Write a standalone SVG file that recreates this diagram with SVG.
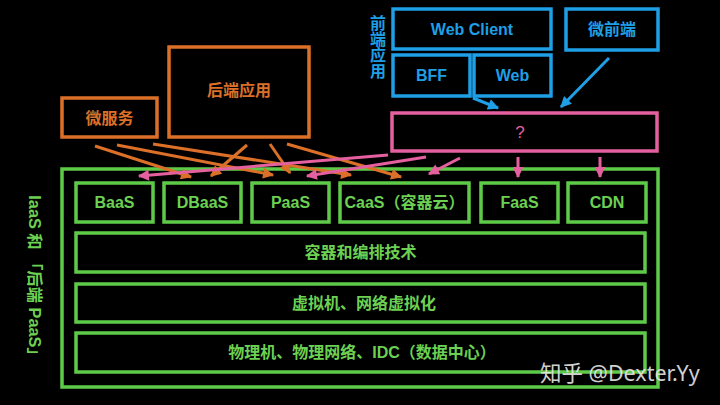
<svg xmlns="http://www.w3.org/2000/svg" width="720" height="405" viewBox="0 0 720 405">
<defs>
<style>
.bg{fill:#000}
.box{fill:none;stroke-width:3.5}
.o{stroke:#dc7028}
.b{stroke:#1e9fe6}
.p{stroke:#e5609f}
.g{stroke:#5ecb48}
.t{font-family:"Liberation Sans","Noto Sans CJK SC",sans-serif;font-size:16px;font-weight:bold;text-anchor:middle}
.to{fill:#dc7028}
.tb{fill:#1e9fe6}
.tp{fill:#e5609f;font-weight:normal;font-size:17px}
.tg{fill:#6cd052}
.ln{fill:none;stroke-width:3}
</style>
<marker id="ao" viewBox="0 0 10 10" refX="9" refY="5" markerWidth="12" markerHeight="11" markerUnits="userSpaceOnUse" orient="auto"><path d="M0,0L10,5L0,10z" fill="#dc7028"/></marker>
<marker id="ab" viewBox="0 0 10 10" refX="9" refY="5" markerWidth="12" markerHeight="11" markerUnits="userSpaceOnUse" orient="auto"><path d="M0,0L10,5L0,10z" fill="#1e9fe6"/></marker>
<marker id="ap" viewBox="0 0 10 10" refX="9" refY="5" markerWidth="12" markerHeight="11" markerUnits="userSpaceOnUse" orient="auto"><path d="M0,0L10,5L0,10z" fill="#e5609f"/></marker>
</defs>
<rect class="bg" x="0" y="0" width="720" height="405"/>

<g id="micro-services"><rect class="box o" x="62" y="98" width="95" height="39"/><text class="t to" x="109.5" y="124">微服务</text></g>
<g id="backend-app"><rect class="box o" x="169" y="47" width="140" height="90"/><text class="t to" x="239" y="96">后端应用</text></g>

<g id="frontend-label"><text class="t tb" x="378"><tspan x="378" y="29">前</tspan><tspan x="378" y="45">端</tspan><tspan x="378" y="61">应</tspan><tspan x="378" y="77">用</tspan></text></g>
<g id="web-client"><rect class="box b" x="393" y="9" width="158" height="40"/><text class="t tb" x="472" y="35">Web Client</text></g>
<g id="micro-frontend"><rect class="box b" x="566" y="9" width="92" height="41"/><text class="t tb" x="612" y="35">微前端</text></g>
<g id="bff"><rect class="box b" x="393" y="55" width="77" height="41"/><text class="t tb" x="431.5" y="81">BFF</text></g>
<g id="web"><rect class="box b" x="474" y="55" width="77" height="41"/><text class="t tb" x="512.5" y="81">Web</text></g>

<g id="unknown"><rect class="box p" x="392" y="113" width="265" height="38"/><text class="t tp" x="520" y="138">?</text></g>

<g id="iaas-paas"><rect class="box g" x="62" y="169" width="596" height="218"/>
<text class="t tg" transform="translate(35,279.5) rotate(90)" y="6" style="font-size:16.3px">IaaS 和 「后端 PaaS」</text></g>
<g id="baas"><rect class="box g" x="76" y="183" width="77" height="39"/><text class="t tg" x="114.5" y="208">BaaS</text></g>
<g id="dbaas"><rect class="box g" x="164" y="183" width="77" height="39"/><text class="t tg" x="202.5" y="208">DBaaS</text></g>
<g id="paas"><rect class="box g" x="252" y="183" width="77" height="39"/><text class="t tg" x="290.5" y="208">PaaS</text></g>
<g id="caas"><rect class="box g" x="340" y="183" width="129" height="39"/><text class="t tg" x="404.5" y="208">CaaS（容器云）</text></g>
<g id="faas"><rect class="box g" x="481" y="183" width="77" height="39"/><text class="t tg" x="519.5" y="208">FaaS</text></g>
<g id="cdn"><rect class="box g" x="568" y="183" width="78" height="39"/><text class="t tg" x="607" y="208">CDN</text></g>
<g id="container-orchestration"><rect class="box g" x="76" y="233" width="569" height="39"/><text class="t tg" x="360.5" y="258">容器和编排技术</text></g>
<g id="virtualization"><rect class="box g" x="76" y="284" width="569" height="38"/><text class="t tg" x="364" y="309">虚拟机、网络虚拟化</text></g>
<g id="physical"><rect class="box g" x="76" y="333" width="569" height="39"/><text class="t tg" x="362" y="358">物理机、物理网络、IDC（数据中心）</text></g>

<g id="connectors">
<line class="ln o" x1="95" y1="146" x2="191" y2="177" marker-end="url(#ao)"/>
<line class="ln o" x1="117" y1="145" x2="273" y2="175" marker-end="url(#ao)"/>
<line class="ln o" x1="153" y1="144" x2="351" y2="175" marker-end="url(#ao)"/>
<line class="ln o" x1="247" y1="145" x2="211" y2="176" marker-end="url(#ao)"/>
<line class="ln o" x1="270" y1="144" x2="290" y2="173" marker-end="url(#ao)"/>
<line class="ln o" x1="287" y1="144" x2="401" y2="177" marker-end="url(#ao)"/>
<line class="ln b" x1="473" y1="98" x2="498" y2="108" marker-end="url(#ab)"/>
<line class="ln b" x1="609" y1="58" x2="561" y2="107" marker-end="url(#ab)"/>
<line class="ln p" x1="388" y1="155" x2="139" y2="176" marker-end="url(#ap)"/>
<line class="ln p" x1="426" y1="157" x2="307" y2="176" marker-end="url(#ap)"/>
<line class="ln p" x1="460" y1="158" x2="429" y2="174" marker-end="url(#ap)"/>
<line class="ln p" x1="518" y1="157" x2="518" y2="177" marker-end="url(#ap)"/>
<line class="ln p" x1="600" y1="157" x2="600" y2="177" marker-end="url(#ap)"/>
</g>

<text x="540" y="381" font-family="'Noto Sans','Noto Sans CJK SC',sans-serif" font-size="21.5" fill="#e6e6e6" fill-opacity="0.92">知乎 @Dexter.Yy</text>
</svg>
